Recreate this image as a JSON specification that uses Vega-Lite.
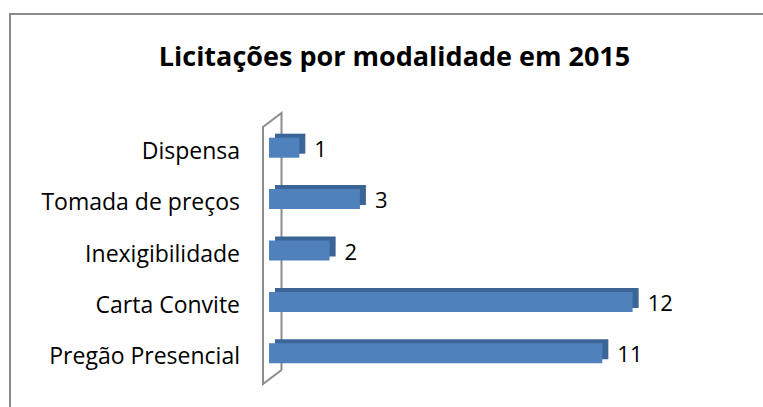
{
  "$schema": "https://vega.github.io/schema/vega-lite/v6.json",
  "width": 753,
  "height": 393,
  "autosize": {"type": "none"},
  "padding": {"left": 10, "top": 14, "right": 0, "bottom": 0},
  "background": "white",
  "config": {
    "view": {"stroke": null},
    "font": "Open Sans"
  },
  "title": {
    "text": "Licitações por modalidade em 2015",
    "anchor": "middle",
    "frame": "group",
    "baseline": "alphabetic",
    "offset": -80,
    "dx": 8,
    "font": "Open Sans",
    "fontSize": 27,
    "fontWeight": "bold",
    "color": "#000000"
  },
  "datasets": {
    "bars": [
      {"modalidade": "Dispensa", "quantidade": 1},
      {"modalidade": "Tomada de preços", "quantidade": 3},
      {"modalidade": "Inexigibilidade", "quantidade": 2},
      {"modalidade": "Carta Convite", "quantidade": 12},
      {"modalidade": "Pregão Presencial", "quantidade": 11}
    ],
    "wall": [
      {"wx": 0.412, "wy": 4.825, "o": 0},
      {"wx": -0.199, "wy": 5.097, "o": 1},
      {"wx": -0.199, "wy": 0.097, "o": 2},
      {"wx": 0.412, "wy": -0.175, "o": 3},
      {"wx": 0.412, "wy": 4.825, "o": 4}
    ],
    "frame": [
      {"fx": -8.548, "fx2": 20, "fy": -2.101, "fy2": 9}
    ]
  },
  "resolve": {"scale": {"y": "independent"}},
  "layer": [
    {
      "layer": [
        {
          "data": {"name": "frame"},
          "mark": {"type": "rect", "fill": null, "stroke": "#8a8a8a", "strokeWidth": 2, "clip": false},
          "encoding": {
            "x": {"field": "fx", "type": "quantitative", "axis": null,
                  "scale": {"domain": [-8.548, 16.302], "nice": false, "zero": false}},
            "x2": {"field": "fx2"},
            "y": {"field": "fy", "type": "quantitative", "axis": null,
                  "scale": {"domain": [0, 5], "range": [108, 365], "nice": false, "zero": false}},
            "y2": {"field": "fy2"}
          }
        },
        {
          "data": {"name": "wall"},
          "mark": {"type": "line", "stroke": "#8c8c8c", "strokeWidth": 2, "strokeJoin": "miter"},
          "encoding": {
            "x": {"field": "wx", "type": "quantitative", "axis": null},
            "y": {"field": "wy", "type": "quantitative", "axis": null},
            "order": {"field": "o", "type": "quantitative"}
          }
        }
      ]
    },
    {
      "data": {"name": "bars"},
      "layer": [
        {
          "mark": {"type": "bar", "color": "#3b6596", "xOffset": 6, "x2Offset": 6, "yOffset": -4, "y2Offset": -4},
          "encoding": {
            "x": {"field": "quantidade", "type": "quantitative", "axis": null},
            "y": {"field": "modalidade", "type": "nominal", "axis": null, "sort": null,
                  "scale": {"range": [108, 365], "paddingInner": 0.61, "paddingOuter": 0.305}}
          }
        },
        {
          "mark": {"type": "bar", "color": "#4f81bd"},
          "encoding": {
            "x": {"field": "quantidade", "type": "quantitative", "axis": null},
            "y": {"field": "modalidade", "type": "nominal", "axis": null, "sort": null}
          }
        },
        {
          "mark": {"type": "text", "align": "left", "baseline": "middle", "dx": 15, "dy": 2, "fontSize": 22, "color": "#000000"},
          "encoding": {
            "x": {"field": "quantidade", "type": "quantitative"},
            "y": {"field": "modalidade", "type": "nominal", "sort": null},
            "text": {"field": "quantidade", "type": "quantitative"}
          }
        },
        {
          "mark": {"type": "text", "align": "right", "baseline": "middle", "dx": -29, "dy": 4, "fontSize": 23, "color": "#000000"},
          "encoding": {
            "x": {"datum": 0, "type": "quantitative"},
            "y": {"field": "modalidade", "type": "nominal", "sort": null},
            "text": {"field": "modalidade", "type": "nominal"}
          }
        }
      ]
    }
  ]
}
